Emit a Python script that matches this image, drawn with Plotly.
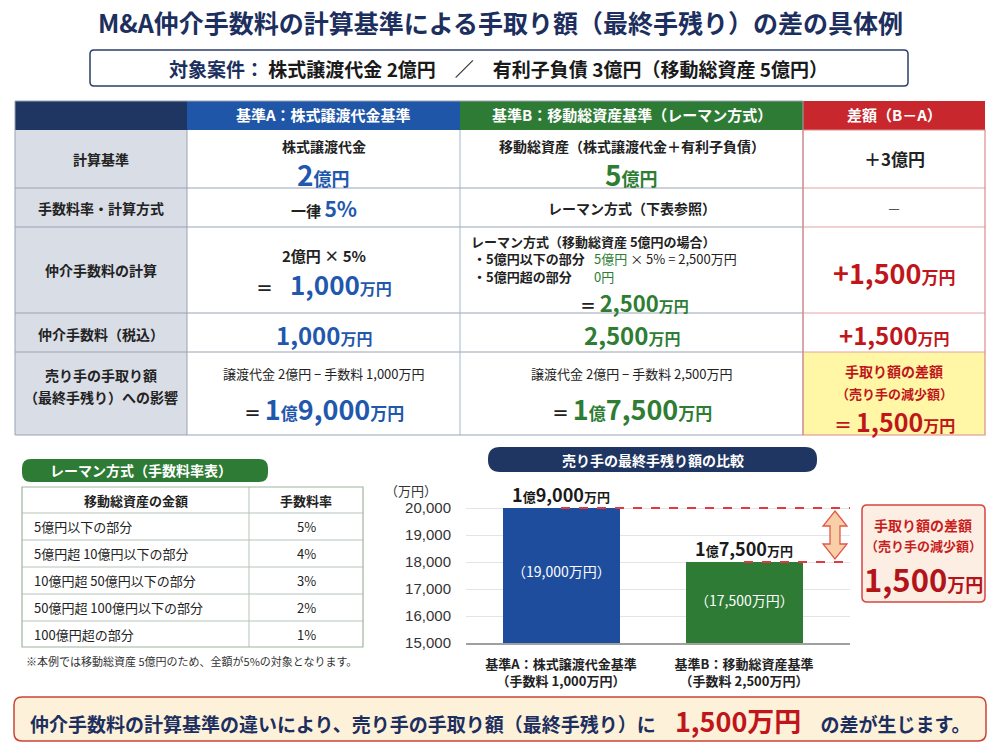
import re
import plotly.graph_objects as go

W, H = 1000, 750
FONT = "Noto Sans CJK JP"

NAVY = "#1c2f5e"
HEAD_NAVY = "#1f3562"
HEAD_BLUE = "#1f56a8"
HEAD_GREEN = "#2e7b36"
HEAD_RED = "#c8282d"
BLUE = "#1f58ad"
GREEN = "#2e7d33"
RED = "#c0161b"
DARK = "#222222"

# ---------------- data ----------------
title_text = "M&A仲介手数料の計算基準による手取り額（最終手残り）の差の具体例"
case_label = "対象案件："
case_text = "株式譲渡代金 2億円　／　有利子負債 3億円（移動総資産 5億円）"

table_headers = ["基準A：株式譲渡代金基準", "基準B：移動総資産基準（レーマン方式）", "差額（B－A）"]
row_labels = ["計算基準", "手数料率・計算方式", "仲介手数料の計算", "仲介手数料（税込）",
              "売り手の手取り額<br>（最終手残り）への影響"]

basis_names = ["株式譲渡代金", "移動総資産（株式譲渡代金＋有利子負債）"]
basis_amounts = ["2億円", "5億円"]
basis_diff = "＋3億円"

fee_method_a = ["一律 ", "5%"]
fee_method_b = "レーマン方式（下表参照）"
fee_method_diff = "－"

fee_calc_a = ["2億円 × 5%", "1,000万円"]
fee_calc_b_title = "レーマン方式（移動総資産 5億円の場合）"
fee_calc_b_parts = ["・5億円以下の部分", "・5億円超の部分"]
fee_calc_b_values = ["5億円", "0円"]
fee_calc_b_tail = " × 5% = 2,500万円"
fee_calc_b_total = "2,500万円"
fee_calc_diff = "+1,500万円"

fee_amounts = ["1,000万円", "2,500万円", "+1,500万円"]

proceeds_calc = ["譲渡代金 2億円 − 手数料 1,000万円", "譲渡代金 2億円 − 手数料 2,500万円"]
proceeds = ["1億9,000万円", "1億7,500万円"]
proceeds_diff = ["手取り額の差額", "（売り手の減少額）", "1,500万円"]

lehman_title = "レーマン方式（手数料率表）"
lehman_headers = ["移動総資産の金額", "手数料率"]
lehman_ranges = ["5億円以下の部分", "5億円超 10億円以下の部分", "10億円超 50億円以下の部分",
                 "50億円超 100億円以下の部分", "100億円超の部分"]
lehman_rates = ["5%", "4%", "3%", "2%", "1%"]
lehman_note = "※本例では移動総資産 5億円のため、全額が5%の対象となります。"

chart_title = "売り手の最終手残り額の比較"
bar_categories = ["基準A：株式譲渡代金基準<br>（手数料 1,000万円）",
                  "基準B：移動総資産基準<br>（手数料 2,500万円）"]
bar_heights = [20000, 18000]          # bar tops as read against the drawn axis
bar_value_labels = ["1億9,000万円", "1億7,500万円"]
bar_inner_labels = ["（19,000万円）", "（17,500万円）"]
y_ticks = [15000, 16000, 17000, 18000, 19000, 20000]
y_unit = "（万円）"
callout_lines = ["手取り額の差額", "（売り手の減少額）", "1,500万円"]

banner_parts = ["仲介手数料の計算基準の違いにより、売り手の手取り額（最終手残り）に　",
                "1,500万円", "　の差が生じます。"]

# ---------------- helpers ----------------
shapes = []
ann = []


def px(x):
    return x / W


def py(y):
    return 1 - y / H


def rect(x0, y0, x1, y1, fill=None, line=None, lw=1.0):
    shapes.append(dict(type="rect", xref="paper", yref="paper",
                       x0=px(x0), x1=px(x1), y0=py(y1), y1=py(y0),
                       fillcolor=fill or "rgba(0,0,0,0)",
                       line=dict(color=line or "rgba(0,0,0,0)", width=lw if line else 0),
                       layer="above"))


def rrect(x0, y0, x1, y1, r, fill=None, line=None, lw=1.0):
    pts = [
        ("M", [(x0 + r, y0)]), ("L", [(x1 - r, y0)]), ("Q", [(x1, y0), (x1, y0 + r)]),
        ("L", [(x1, y1 - r)]), ("Q", [(x1, y1), (x1 - r, y1)]),
        ("L", [(x0 + r, y1)]), ("Q", [(x0, y1), (x0, y1 - r)]),
        ("L", [(x0, y0 + r)]), ("Q", [(x0, y0), (x0 + r, y0)]),
    ]
    path = ""
    for cmd, ps in pts:
        path += cmd + " " + " ".join(f"{px(a):.5f},{py(b):.5f}" for a, b in ps) + " "
    path += "Z"
    shapes.append(dict(type="path", xref="paper", yref="paper", path=path,
                       fillcolor=fill or "rgba(0,0,0,0)",
                       line=dict(color=line or "rgba(0,0,0,0)", width=lw if line else 0),
                       layer="above"))


def hline(x0, x1, y, color, w=1.0):
    shapes.append(dict(type="line", xref="paper", yref="paper", x0=px(x0), x1=px(x1),
                       y0=py(y), y1=py(y), line=dict(color=color, width=w), layer="above"))


def vline(x, y0, y1, color, w=1.0):
    shapes.append(dict(type="line", xref="paper", yref="paper", x0=px(x), x1=px(x),
                       y0=py(y0), y1=py(y1), line=dict(color=color, width=w), layer="above"))


def T(x, y, text, size=14, color=DARK, bold=True, xanchor="center"):
    ann.append(dict(x=px(x), y=py(y), xref="paper", yref="paper",
                    text=f"<b>{text}</b>" if bold else text, showarrow=False,
                    font=dict(family=FONT, size=size, color=color),
                    xanchor=xanchor, yanchor="middle"))


def mix(s, big, small, color=None):
    out = []
    c = f";color:{color}" if color else ""
    for p in re.findall(r"[0-9,+＋%]+|[^0-9,+＋%]+", s):
        sz = big if re.match(r"[0-9,+＋%]", p) else small
        out.append(f"<span style='font-size:{sz}px{c}'>{p}</span>")
    return "".join(out)


# ---------------- title & case box ----------------
T(500, 22, title_text, 25, NAVY)
rrect(90, 50, 908, 86, 4, fill="white", line="#2c3e6b", lw=1.5)
T(498, 68, f"<span style='color:{NAVY}'>{case_label}</span> " + case_text, 19, "#1a1a1a")

# ---------------- main table ----------------
X = [15, 187, 460, 803, 985]
Y = [101, 130, 188, 227, 313, 352, 435]
head_fill = [HEAD_NAVY, HEAD_BLUE, HEAD_GREEN, HEAD_RED]
for i in range(4):
    rect(X[i], Y[0], X[i + 1], Y[1], fill=head_fill[i])
rect(X[0], Y[1], X[1], Y[6], fill="#d9dde6")
rect(X[1], Y[1], X[3], Y[6], fill="white")
rect(X[3], Y[1], X[4], Y[5], fill="white")
rect(X[3], Y[5], X[4], Y[6], fill="#fff7a6")
for y in Y[2:6]:
    hline(X[0], X[3], y, "#9aa3b3", 1)
    hline(X[3], X[4], y, "#e3a3a3", 1)
vline(X[1], Y[1], Y[6], "#9aa3b3", 1)
vline(X[2], Y[1], Y[6], "#9dbccc", 1)
rect(X[0], Y[0], X[3], Y[6], line="#9aa3b3", lw=1)
rect(X[3], Y[1], X[4], Y[6], line="#e08a8a", lw=1.2)

cxA = (X[1] + X[2]) / 2
cxB = (X[2] + X[3]) / 2
cxD = (X[3] + X[4]) / 2
cxL = (X[0] + X[1]) / 2

T(cxA, 115, table_headers[0], 15, "white")
T(cxB, 115, table_headers[1], 15, "white")
T(cxD, 115, table_headers[2], 15, "white")

# row labels
label_y = [159, 208, 270, 334]
for lbl, yy in zip(row_labels[:4], label_y):
    T(cxL, yy, lbl, 14, DARK)
l5 = row_labels[4].split("<br>")
T(cxL, 375, l5[0], 14, DARK)
T(cxL, 397, l5[1], 14, DARK)

# row 1
T(cxA, 146, basis_names[0], 14, DARK)
T(cxA, 174, mix(basis_amounts[0], 28, 18), 18, BLUE)
T(cxB, 146, basis_names[1], 14, DARK)
T(cxB, 174, mix(basis_amounts[1], 28, 18), 18, GREEN)
T(cxD, 158, basis_diff, 17, DARK)

# row 2
T(cxA, 208, fee_method_a[0] + f"<span style='font-size:21px;color:{BLUE}'>{fee_method_a[1]}</span>", 15, DARK)
T(cxB, 208, fee_method_b, 14, DARK)
T(cxD, 208, fee_method_diff, 14, "#555555", bold=False)

# row 3
T(cxA, 256, fee_calc_a[0], 15, DARK)
T(cxA, 283, f"<span style='font-size:17px;color:{DARK}'>＝　</span>" + mix(fee_calc_a[1], 26, 16), 16, BLUE)
T(469, 241, fee_calc_b_title, 13, DARK, xanchor="left")
T(471, 259, fee_calc_b_parts[0], 13, DARK, xanchor="left")
T(592, 259, f"<span style='color:{GREEN}'>{fee_calc_b_values[0]}</span>{fee_calc_b_tail}", 13, DARK,
  bold=False, xanchor="left")
T(471, 277, fee_calc_b_parts[1], 13, DARK, xanchor="left")
T(592, 277, fee_calc_b_values[1], 13, GREEN, bold=False, xanchor="left")
T(578, 302, f"<span style='font-size:16px;color:{DARK}'>＝ </span>" + mix(fee_calc_b_total, 22, 15), 15,
  GREEN, xanchor="left")
T(cxD, 272, mix(fee_calc_diff, 27, 17), 17, RED)

# row 4
T(cxA, 334, mix(fee_amounts[0], 24, 16), 16, BLUE)
T(cxB, 334, mix(fee_amounts[1], 24, 16), 16, GREEN)
T(cxD, 334, mix(fee_amounts[2], 24, 16), 16, RED)

# row 5
T(cxA, 374, proceeds_calc[0], 13, DARK, bold=False)
T(cxA, 408, f"<span style='font-size:17px;color:{DARK}'>＝ </span>" + mix(proceeds[0], 27, 17), 17, BLUE)
T(cxB, 374, proceeds_calc[1], 13, DARK, bold=False)
T(cxB, 408, f"<span style='font-size:17px;color:{DARK}'>＝ </span>" + mix(proceeds[1], 27, 17), 17, GREEN)
T(cxD, 371, proceeds_diff[0], 14, RED)
T(cxD, 393, proceeds_diff[1], 13, RED)
T(cxD, 421, f"<span style='font-size:18px'>＝ </span>" + mix(proceeds_diff[2], 25, 16), 16, RED)

# ---------------- Lehman table ----------------
rrect(22, 459, 268, 482, 9, fill=HEAD_GREEN)
T(141, 470, lehman_title, 14, "white")
LX = [22, 249, 363]
LY = [487, 513, 540, 567, 594, 621, 647]
rect(LX[0], LY[0], LX[2], LY[-1], fill="white")
for y in LY[1:-1]:
    hline(LX[0], LX[2], y, "#b7c5b7", 1)
vline(LX[1], LY[0], LY[-1], "#b7c5b7", 1)
rect(LX[0], LY[0], LX[2], LY[-1], line="#9fb59f", lw=1.2)
T((LX[0] + LX[1]) / 2, (LY[0] + LY[1]) / 2, lehman_headers[0], 13, DARK)
T((LX[1] + LX[2]) / 2, (LY[0] + LY[1]) / 2, lehman_headers[1], 13, DARK)
for i, (rg, rt) in enumerate(zip(lehman_ranges, lehman_rates)):
    yc = (LY[i + 1] + LY[i + 2]) / 2
    T(32, yc, rg, 13, DARK, bold=False, xanchor="left")
    T((LX[1] + LX[2]) / 2, yc, rt, 13, DARK, bold=False)
T(24, 661, lehman_note, 11, "#333333", bold=False, xanchor="left")

# ---------------- bar chart ----------------
rrect(488, 447, 817, 472, 12, fill=HEAD_NAVY)
T(653, 460, chart_title, 14, "white")

PX_LEFT, PX_RIGHT = 466, 850          # plot area horizontal extent (px)
PX_BOTTOM, PX_TOP = 643, 500          # plot area vertical extent (px)
PX_PER_1000 = 27.0
CENTER_A, CENTER_STEP = 561, 183      # category centre & spacing (px)
BAR_W_PX = 117

y_min = y_ticks[0]
y_max = y_min + (PX_BOTTOM - PX_TOP) / PX_PER_1000 * 1000
x_lo = (PX_LEFT - CENTER_A) / CENTER_STEP
x_hi = (PX_RIGHT - CENTER_A) / CENTER_STEP
cats = list(range(len(bar_heights)))

fig = go.Figure()
fig.add_trace(go.Bar(x=cats, y=bar_heights, width=BAR_W_PX / CENTER_STEP,
                     marker=dict(color=["#1f4d9e", "#2e7b36"], line=dict(width=0)),
                     hoverinfo="skip", showlegend=False))

unit_y = 1000 / PX_PER_1000  # data units per px
for i, h in enumerate(bar_heights):
    ann.append(dict(x=i, y=h, xref="x", yref="y", yanchor="bottom", yshift=-1, showarrow=False,
                    text="<b>" + mix(bar_value_labels[i], 18, 13) + "</b>",
                    font=dict(family=FONT, size=13, color="#1a1a1a")))
    ann.append(dict(x=i, y=h - 0.47 * (h - y_min), xref="x", yref="y", showarrow=False,
                    text=bar_inner_labels[i], font=dict(family=FONT, size=14, color="white")))
    shapes.append(dict(type="line", xref="x", yref="y", x0=i, x1=x_hi, y0=h, y1=h,
                       line=dict(color="#e0393e", width=2, dash="dash"), layer="above"))

# double-headed arrow between the two bar tops
ax = (835 - CENTER_A) / CENTER_STEP
hw, sw = 12 / CENTER_STEP, 5 / CENTER_STEP
hl = 15 * unit_y
gap = 3 * unit_y
yt, yb = bar_heights[0] - gap, bar_heights[1] + gap
arrow_pts = [(ax, yt), (ax + hw, yt - hl), (ax + sw, yt - hl), (ax + sw, yb + hl), (ax + hw, yb + hl),
             (ax, yb), (ax - hw, yb + hl), (ax - sw, yb + hl), (ax - sw, yt - hl), (ax - hw, yt - hl)]
arrow_path = "M " + " L ".join(f"{a:.5f},{b:.2f}" for a, b in arrow_pts) + " Z"
shapes.append(dict(type="path", xref="x", yref="y", path=arrow_path, fillcolor="#f8cfa6",
                   line=dict(color="#e0584c", width=1.3), layer="above"))

T(411, 490, y_unit, 13, "#333333", bold=False)

# callout
rrect(862, 505, 985, 602, 5, fill="#fdeee3", line="#d64541", lw=1.5)
T(923, 525, callout_lines[0], 14, "#c81e1e")
T(923, 545, callout_lines[1], 13, "#c81e1e")
T(923, 578, mix(callout_lines[2], 31, 18), 18, "#b3141a")

# ---------------- banner ----------------
rrect(14, 697, 986, 741, 8, fill="#fdf1d9", line="#c9443a", lw=1.5)
T(500, 720, banner_parts[0] + f"<span style='font-size:27px;color:{RED}'>{banner_parts[1]}</span>" +
  banner_parts[2], 19, NAVY)

fig.update_layout(
    width=W, height=H, autosize=False,
    margin=dict(l=0, r=0, t=0, b=0, pad=0, autoexpand=False),
    paper_bgcolor="white", plot_bgcolor="white",
    shapes=shapes, annotations=ann, showlegend=False,
    font=dict(family=FONT),
    bargap=0,
    xaxis=dict(domain=[px(PX_LEFT), px(PX_RIGHT)], range=[x_lo, x_hi], tickvals=cats,
               ticktext=[f"<b>{c}</b>" for c in bar_categories], showgrid=False, zeroline=False,
               showline=True, linecolor="#a0a0a0", linewidth=1.5, ticks="", ticklabelstandoff=9,
               automargin=False,
               tickfont=dict(family=FONT, size=13, color="#222222"), fixedrange=True),
    yaxis=dict(domain=[py(PX_BOTTOM), py(PX_TOP)], range=[y_min, y_max], tickvals=y_ticks,
               tickformat=",d", showgrid=True, gridcolor="#e4e4e4", zeroline=False, showline=False,
               ticks="", ticklabelstandoff=14, automargin=False,
               tickfont=dict(family="Liberation Sans", size=15, color="#333333"), fixedrange=True),
)

post = ("document.documentElement.style.margin='0';document.body.style.margin='0';"
        "document.documentElement.style.overflow='hidden';document.body.style.overflow='hidden';"
        "var d=document.getElementsByClassName('plotly-graph-div')[0];"
        "d.style.position='fixed';d.style.left='0px';d.style.top='0px';")
fig.write_html("out.html", config={"displayModeBar": False}, post_script=post)
